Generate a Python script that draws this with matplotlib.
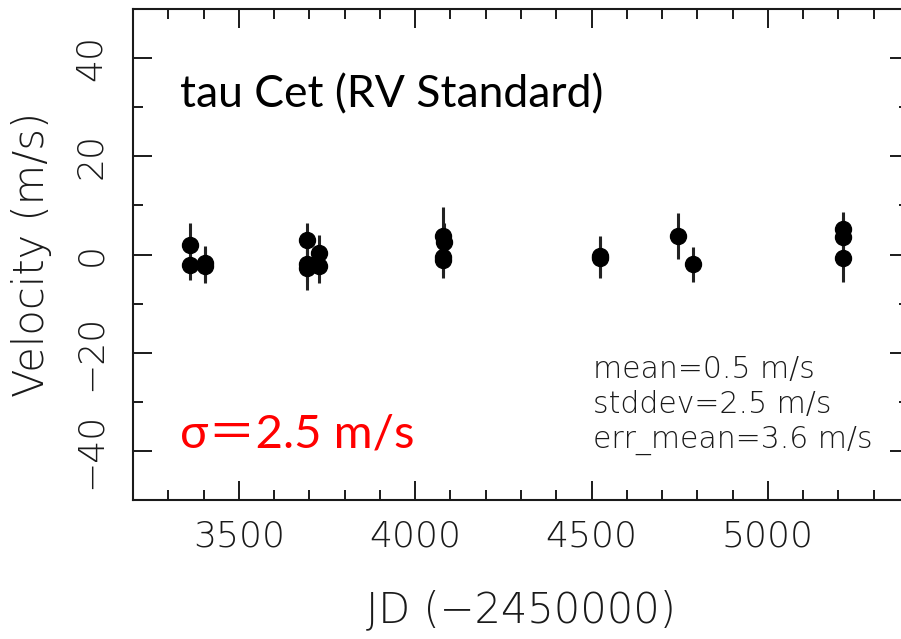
import numpy as np
import matplotlib
matplotlib.use('Agg')
from matplotlib import pyplot as plt
from matplotlib.ticker import MultipleLocator

# JD - 2450000, velocity (m/s), error (m/s)
jd = [3362, 3362, 3405, 3405,
      3693, 3693, 3693, 3728, 3728,
      4078, 4082, 4078, 4078,
      4524, 4524,
      4746, 4789,
      5214, 5214, 5214]
vel = [2.0, -2.2, -1.8, -2.3,
       3.0, -2.0, -2.7, 0.4, -2.4,
       3.7, 2.5, -0.5, -1.2,
       -0.3, -0.8,
       3.7, -2.0,
       5.1, 3.5, -0.8]
err = [4.5, 3.0, 3.5, 3.5,
       3.5, 3.5, 4.5, 3.5, 3.5,
       6.0, 4.0, 3.5, 3.5,
       4.0, 4.0,
       4.7, 3.6,
       3.5, 4.0, 4.8]

stats = ['mean=0.5 m/s', 'stddev=2.5 m/s', 'err_mean=3.6 m/s']

W, H = 901, 639
ink = '#1a1a1a'
plt.rcParams.update({
    'font.family': 'DejaVu Sans',
    'font.weight': 'light',
    'axes.labelweight': 'light',
    'xtick.labelsize': 26,
    'ytick.labelsize': 26,
})

fig = plt.figure(figsize=(W / 100, H / 100), dpi=100)
ax = fig.add_axes([133 / W, 1 - 500 / H, 776 / W, 491 / H])

ax.errorbar(jd, vel, yerr=err, fmt='o', color='black', ecolor='#222222',
            markersize=11.5, elinewidth=2.2, capsize=0)

ax.set_xlim(3200, 5400)
ax.set_ylim(-50, 50)
ax.xaxis.set_major_locator(MultipleLocator(500))
ax.xaxis.set_minor_locator(MultipleLocator(100))
ax.yaxis.set_major_locator(MultipleLocator(20))
ax.yaxis.set_minor_locator(MultipleLocator(10))
ax.tick_params(which='both', direction='in', top=True, right=True,
               color=ink, labelcolor=ink)
ax.tick_params(which='major', length=13.5, width=1.4)
ax.tick_params(which='minor', length=7, width=1.4)
ax.tick_params(axis='x', pad=14)
ax.tick_params(axis='y', pad=18)
for lab in ax.get_yticklabels():
    lab.set_rotation(90)
    lab.set_va('center')
for s in ax.spines.values():
    s.set_linewidth(1.5)
    s.set_color(ink)

ax.set_xlabel('JD (\u22122450000)', fontsize=30, color=ink, labelpad=26)
ax.set_ylabel('Velocity (m/s)', fontsize=30, color=ink, labelpad=16)

for i, line in enumerate(stats):
    fig.text(593 / W, 1 - (378 + 35 * i) / H, line, fontsize=21.5,
             color=ink, va='baseline')

fig.text(180 / W, 1 - 95 / H, 'tau Cet (RV Standard)', fontsize=32,
         family=['Lato', 'DejaVu Sans'], weight='normal', va='center',
         color='black')
fig.text(180 / W, 1 - 435 / H, 'σ＝2.5 m/s', fontsize=34, color='red',
         family=['Lato', 'Noto Sans CJK JP', 'DejaVu Sans'], weight='normal',
         va='center')

fig.savefig('out.png', dpi=100)
